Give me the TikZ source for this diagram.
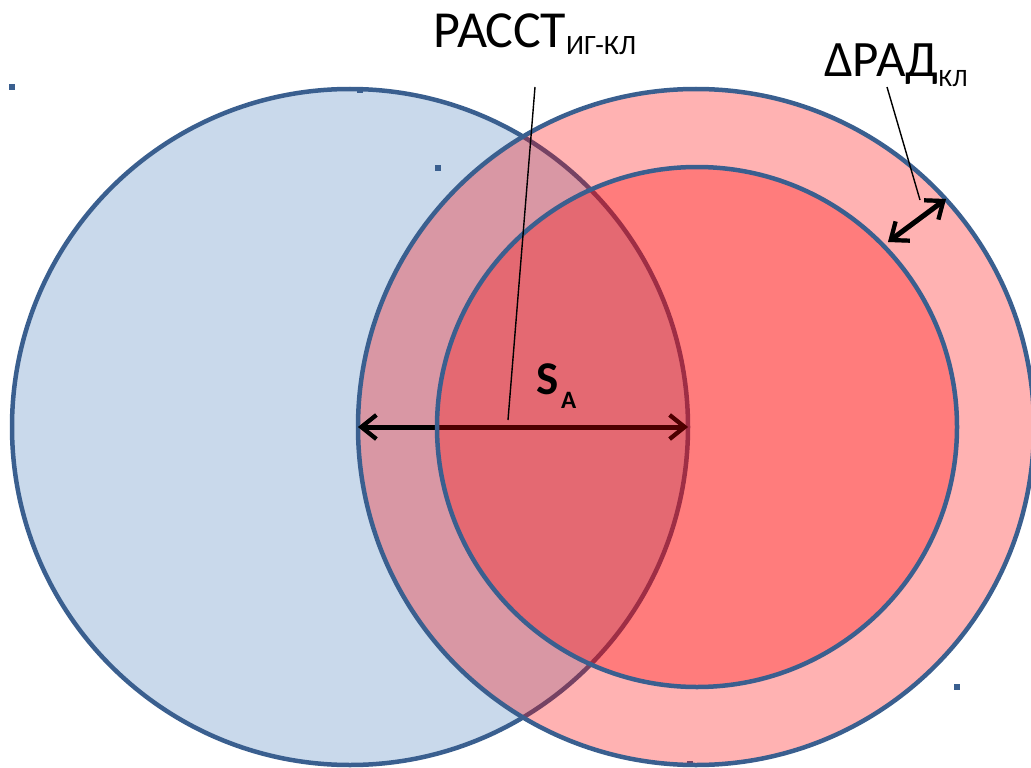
\documentclass[tikz,border=0pt]{standalone}
\usepackage{fontspec}
\setmainfont{Carlito}
\usetikzlibrary{arrows.meta}
\definecolor{bluefill}{HTML}{C9D9EB}
\definecolor{edge}{HTML}{3A5F8F}
\tikzset{
  circ/.style={circle, draw=edge, line width=4.5pt, outer sep=0pt, inner sep=0pt},
  tint/.style={fill=red, fill opacity=0.3},
  handle/.style={rectangle, fill=edge, draw=none, minimum size=6pt, inner sep=0pt},
  leader/.style={draw=black, line width=1.4pt},
  dimarrow/.style={draw=black, line width=5pt, {Straight Barb[length=15pt,width=24pt,line width=4.2pt]}-{Straight Barb[length=15pt,width=24pt,line width=4.2pt]}},
  dimshadow/.style={dimarrow, draw=black, draw opacity=0.3},
  lbl/.style={inner sep=0pt, outer sep=0pt, anchor=base west, text=black}
}
\begin{document}
\begin{tikzpicture}[x=1pt, y=-1pt]
\useasboundingbox (0,0) rectangle (1031,768);
\clip (0,0) rectangle (1031,768);
% blue circle
\node[circ, fill=bluefill, minimum size=676pt] (blue) at (350,427) {};
% handles
\node[handle] (h1) at (12,87) {};
\node[handle] (h2) at (360,90) {};
\node[handle] (h3) at (438,168) {};
\node[handle] (h4) at (957,687) {};
\node[handle] (h5) at (690,764) {};
% outer pink circle
\node[circ, tint, minimum size=676pt] (outer) at (696,427) {};
% main dimension arrow
\begin{scope}[shift={(2,3)}]
  \draw[dimshadow] (outer.west) -- (blue.east);
\end{scope}
\draw[dimarrow] (outer.west) -- (blue.east);
% inner circle
\node[circ, tint, minimum size=520pt] (inner) at (697,427) {};
% small arrow
\coordinate (a1) at (888,242);
\coordinate (a2) at (946,199);
\begin{scope}[shift={(2,3)}]
  \draw[dimshadow] (a1) -- (a2);
\end{scope}
\draw[dimarrow] (a1) -- (a2);
% labels
\node[lbl, font=\fontsize{52}{60}\selectfont] (rasst) at (433,48) {РАССТ\raisebox{-7pt}{\fontsize{28}{32}\selectfont ИГ-КЛ}};
\node[lbl, font=\fontsize{51}{58}\selectfont] (drad) at (824,77) {ΔРАД\raisebox{-10pt}{\fontsize{25}{28}\selectfont КЛ}};
\node[lbl, font=\bfseries\fontsize{47}{52}\selectfont] (sa) at (536,394) {S\hspace{3pt}\raisebox{-14pt}{\fontsize{25}{28}\selectfont A}};
% leader lines
\coordinate (l1a) at (535,87);
\coordinate (l1b) at (508,420);
\coordinate (l2a) at (887,87);
\coordinate (l2b) at (920,200);
\draw[leader] (l1a) -- (l1b);
\draw[leader] (l2a) -- (l2b);
\end{tikzpicture}
\end{document}
